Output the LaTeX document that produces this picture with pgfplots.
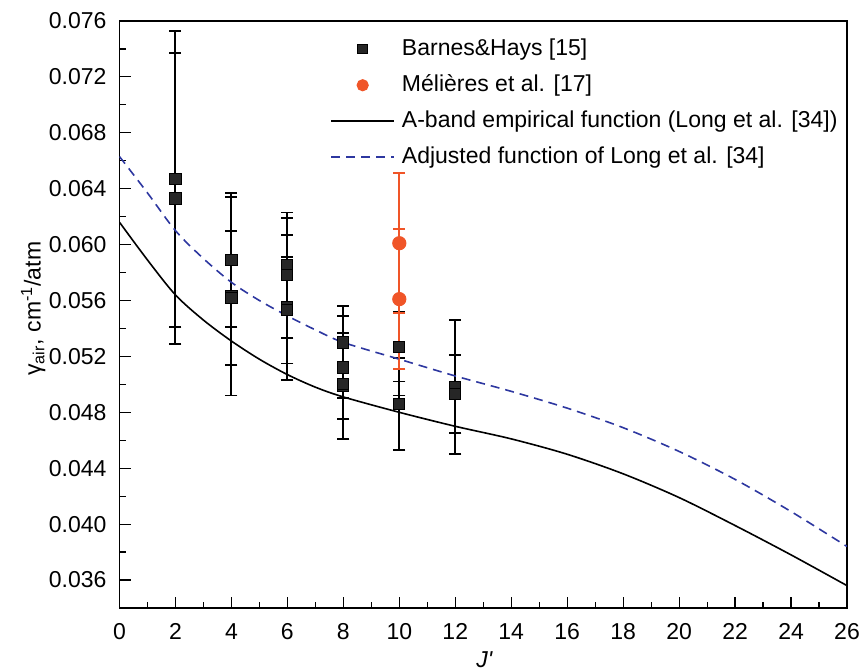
\documentclass[border=0pt]{standalone}
\usepackage{pgfplots}
\pgfplotsset{compat=1.18}
\usepackage{fontspec}
\setmainfont{Liberation Sans}
\definecolor{morange}{RGB}{240,85,40}
\definecolor{dblue}{RGB}{45,55,160}
\pgfplotstableread{
x y e
2 0.0647 0.0106
2 0.0633 0.0104
4 0.0589 0.0048
4 0.0563 0.0071
4 0.0562 0.0048
6 0.0585 0.0034
6 0.0578 0.0045
6 0.0555 0.0052
6 0.0553 0.0038
8 0.0530 0.0026
8 0.0512 0.0037
8 0.0499 0.0038
8 0.0500 0.0010
10 0.0527 0.0035
10 0.0527 0.0025
10 0.0486 0.0033
12 0.0498 0.0048
12 0.0493 0.0028
}\barnes
\pgfplotstableread{
x y e
10 0.0601 0.0050
10 0.0561 0.0050
}\melieres
\pgfplotstableread{
x y
0 0.0616
1 0.0589
2 0.0564
3 0.0546
4 0.0531
5 0.0518
6 0.0507
7 0.0498
8 0.0491
10 0.0480
12 0.0470
14 0.0461
16 0.0450
18 0.0436
20 0.0419
22 0.0399
24 0.0378
26 0.0356
}\along
\pgfplotstableread{
x y
0 0.0663
1 0.0637
2 0.0610
3 0.0590
4 0.0573
5 0.0560
6 0.0549
7 0.0539
8 0.0530
10 0.0518
12 0.0506
14 0.0495
16 0.0483
18 0.0469
20 0.0452
22 0.0432
24 0.0409
26 0.0384
}\adjusted
\begin{document}
\begin{tikzpicture}[font=\fontsize{11.5pt}{13.8pt}\selectfont]
\begin{axis}[
  name=main,
  scale only axis,
  width=363.75pt, height=293.5pt,
  xmin=0, xmax=26, ymin=0.034, ymax=0.076,
  xtick={0,2,4,6,8,10,12,14,16,18,20,22,24,26},
  minor x tick num=1,
  ytick={0.036,0.040,0.044,0.048,0.052,0.056,0.060,0.064,0.068,0.072,0.076},
  minor y tick num=1,
  tick pos=left,
  tick align=inside,
  major tick length=5.5pt, minor tick length=3pt,
  every tick/.style={black, line width=0.6pt},
  axis line style={line width=0.9pt},
  scaled y ticks=false,
  tick label style={/pgf/number format/assume math mode=true},
  y tick label style={/pgf/number format/fixed, /pgf/number format/fixed zerofill, /pgf/number format/precision=3, xshift=-3pt},
  x tick label style={yshift=-4.2pt},
  xlabel={\textit{J\textquotesingle}},
  xlabel style={at={(axis description cs:0.502,0)}, anchor=north, inner sep=0pt, yshift=-21.5pt},
  ylabel={γ\textsubscript{air}, cm\textsuperscript{-1}/atm},
  ylabel style={at={(axis description cs:-0.136,0.51)}, anchor=north, inner sep=0pt},
  legend image code/.code={\draw[mark repeat=2,mark phase=2,#1,every mark/.append style={scale=0.85}] plot coordinates {(0pt,0pt) (15.75pt,0pt) (31.5pt,0pt)};},
  legend style={draw=none, fill=none, at={(0.2893,0.973)}, anchor=north west, inner sep=0pt, row sep=6pt,
    nodes={inner sep=0pt, text height=9pt, text depth=3pt},
    /tikz/every odd column/.append style={column sep=3.5pt}},
  legend cell align=left,
]
\addplot[black, line width=1pt, only marks, mark=square*, mark size=2.8pt, mark options={draw=black, fill=black!85, line width=0.5pt},
  error bars/.cd, y dir=both, y explicit,
  error bar style={line width=1pt, draw=black, solid},
  error mark options={black, line width=0.9pt, mark size=3pt, rotate=90}]
  table[x=x, y=y, y error=e] {\barnes};
\addlegendentry{Barnes\&Hays [15]}
\addplot[morange, line width=1pt, only marks, mark=*, mark size=3.3pt, mark options={draw=morange, fill=morange, line width=0.5pt},
  error bars/.cd, y dir=both, y explicit,
  error bar style={line width=1pt, draw=morange, solid},
  error mark options={morange, line width=0.9pt, mark size=3pt, rotate=90}]
  table[x=x, y=y, y error=e] {\melieres};
\addlegendentry{Mélières et al. [17]}
\addplot[black, line width=0.8pt, smooth, no marks] table[x=x, y=y] {\along};
\addlegendentry{A-band empirical function (Long et al. [34])}
\addplot[dblue, line width=0.8pt, smooth, no marks, dash pattern=on 4.5pt off 3pt] table[x=x, y=y] {\adjusted};
\addlegendentry{Adjusted function of Long et al. [34]}
\end{axis}
\pgfresetboundingbox
\path[use as bounding box] ([xshift=-59.75pt,yshift=-32pt]main.south west) rectangle ([xshift=6.5pt,yshift=10.5pt]main.north east);
\end{tikzpicture}
\end{document}
